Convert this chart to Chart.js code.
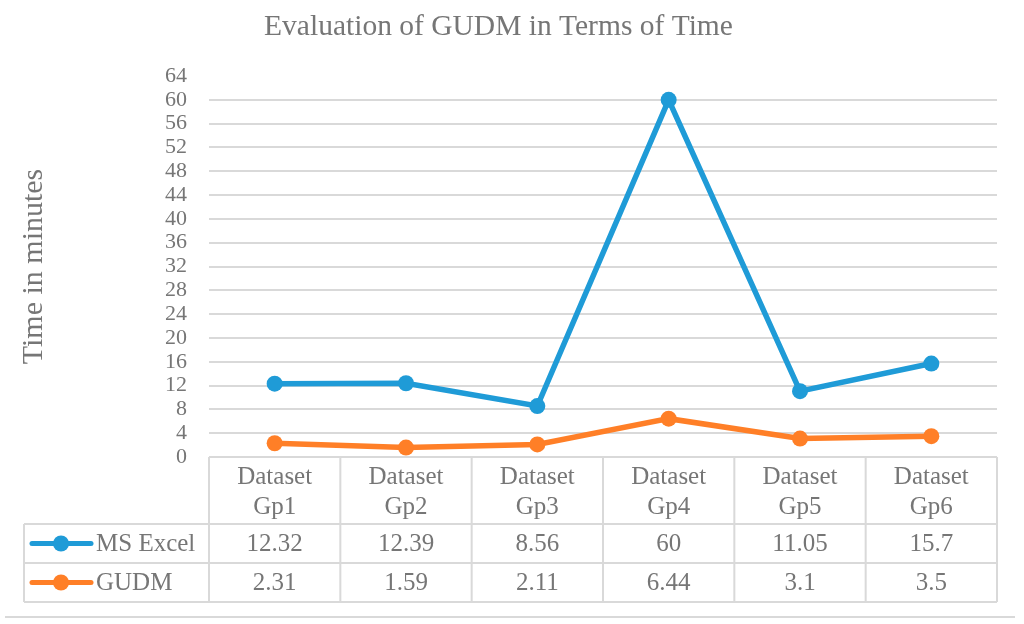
<!DOCTYPE html>
<html>
<head>
<meta charset="utf-8">
<script src="https://cdn.jsdelivr.net/npm/chart.js@4"></script>
<style>
html,body{margin:0;padding:0;background:#fff;}
#wrap{width:1024px;height:624px;position:relative;}
</style>
</head>
<body>
<div id="wrap"><canvas id="c" width="1024" height="624"></canvas></div>
<script>
const categories = ["Dataset Gp1","Dataset Gp2","Dataset Gp3","Dataset Gp4","Dataset Gp5","Dataset Gp6"];
const seriesNames = ["MS Excel","GUDM"];
const msExcel = [12.32, 12.39, 8.56, 60, 11.05, 15.7];
const gudm = [2.31, 1.59, 2.11, 6.44, 3.1, 3.5];
const msExcelLabels = ["12.32","12.39","8.56","60","11.05","15.7"];
const gudmLabels = ["2.31","1.59","2.11","6.44","3.1","3.5"];
const yTicks = [0,4,8,12,16,20,24,28,32,36,40,44,48,52,56,60,64];

const BLUE = '#1F9BD7';
const ORANGE = '#FF7F27';
const TEXT = '#767676';
const GRID = '#D9D9D9';
const FONT = "'Liberation Serif', Tinos, 'Times New Roman', Times, 'DejaVu Serif', serif";

const tablePlugin = {
  id: 'dataTable',
  afterDraw(chart) {
    const ctx = chart.ctx;
    const xs = chart.scales.x;
    const area = chart.chartArea;
    const n = categories.length;
    const colW = (area.right - area.left) / n;
    const top = area.bottom;
    const hdrBottom = top + 67;
    const r1Bottom = hdrBottom + 39;
    const r2Bottom = r1Bottom + 39;
    const legendLeft = 24;
    ctx.save();
    ctx.strokeStyle = GRID;
    ctx.lineWidth = 2;
    ctx.beginPath();
    for (let i = 0; i <= n; i++) {
      const x = area.left + i * colW;
      ctx.moveTo(x, top); ctx.lineTo(x, r2Bottom);
    }
    ctx.moveTo(legendLeft, hdrBottom); ctx.lineTo(legendLeft, r2Bottom);
    [hdrBottom, r1Bottom, r2Bottom].forEach(y => {
      ctx.moveTo(legendLeft, y); ctx.lineTo(area.right, y);
    });
    ctx.moveTo(5, 617); ctx.lineTo(1015, 617);
    ctx.stroke();

    ctx.fillStyle = TEXT;
    ctx.font = Chart.helpers.toFont({ family: FONT, size: 25 }).string;
    ctx.textAlign = 'center';
    ctx.textBaseline = 'middle';
    categories.forEach((c, i) => {
      const x = xs.getPixelForValue(i);
      const parts = c.split(' ');
      ctx.fillText(parts[0], x, top + 20);
      ctx.fillText(parts[1], x, top + 50);
    });
    const rows = [[msExcelLabels, BLUE, seriesNames[0], (hdrBottom + r1Bottom) / 2],
                  [gudmLabels, ORANGE, seriesNames[1], (r1Bottom + r2Bottom) / 2]];
    rows.forEach(([labels, color, name, y]) => {
      ctx.fillStyle = TEXT;
      ctx.textAlign = 'center';
      labels.forEach((v, i) => ctx.fillText(v, xs.getPixelForValue(i), y + 1));
      ctx.strokeStyle = color;
      ctx.lineWidth = 5;
      ctx.lineCap = 'round';
      ctx.beginPath();
      ctx.moveTo(32, y); ctx.lineTo(91, y);
      ctx.stroke();
      ctx.fillStyle = color;
      ctx.beginPath();
      ctx.arc(61, y, 8, 0, Math.PI * 2);
      ctx.fill();
      ctx.fillStyle = TEXT;
      ctx.textAlign = 'left';
      ctx.fillText(name, 96, y + 1);
    });
    ctx.restore();
  }
};

new Chart(document.getElementById('c'), {
  type: 'line',
  data: {
    labels: categories,
    datasets: [
      { label: seriesNames[0], data: msExcel, borderColor: BLUE, backgroundColor: BLUE,
        borderWidth: 5.5, pointRadius: 8, pointBorderWidth: 0, pointBackgroundColor: BLUE, pointBorderColor: BLUE, tension: 0 },
      { label: seriesNames[1], data: gudm, borderColor: ORANGE, backgroundColor: ORANGE,
        borderWidth: 5.5, pointRadius: 8, pointBorderWidth: 0, pointBackgroundColor: ORANGE, pointBorderColor: ORANGE, tension: 0 }
    ]
  },
  options: {
    responsive: false,
    animation: false,
    devicePixelRatio: 1,
    layout: { padding: { left: 0, right: 27, top: 0, bottom: 167 } },
    plugins: {
      legend: { display: false },
      tooltip: { enabled: false },
      title: {
        display: true,
        text: 'Evaluation of GUDM in Terms of Time',
        color: TEXT,
        font: { family: FONT, size: 29.5, weight: 'normal' },
        padding: { top: 10, bottom: 30.6 }
      }
    },
    scales: {
      x: {
        type: 'category',
        offset: true,
        grid: { display: false, drawTicks: false },
        border: { display: false },
        ticks: { display: false }
      },
      y: {
        min: 0, max: 64,
        afterBuildTicks(scale) { scale.ticks = yTicks.map(v => ({ value: v })); },
        afterFit(scale) { scale.width = 209; },
        grid: {
          color: ctx => (ctx.tick && ctx.tick.value === 64) ? 'rgba(0,0,0,0)' : GRID,
          lineWidth: 2,
          drawTicks: false
        },
        border: { display: false },
        ticks: {
          color: TEXT,
          padding: 22,
          autoSkip: false,
          font: { family: FONT, size: 22 }
        },
        title: {
          display: true,
          text: 'Time in minutes',
          color: TEXT,
          font: { family: FONT, size: 30 },
          padding: { top: 16, bottom: 0 }
        }
      }
    }
  },
  plugins: [tablePlugin]
});
</script>
</body>
</html>
